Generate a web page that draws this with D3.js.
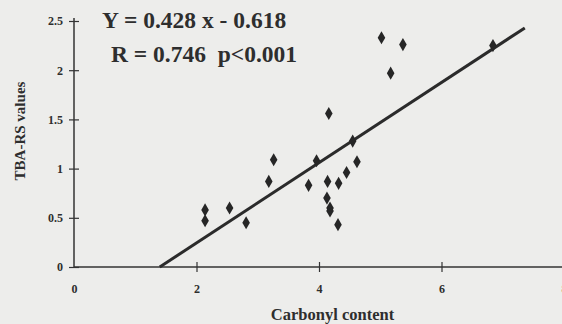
<!DOCTYPE html>
<html>
<head>
<meta charset="utf-8">
<script src="https://cdn.jsdelivr.net/npm/d3@7"></script>
<style>
  body { margin: 0; background: #ededeb; }
  svg { display: block; }
  text { font-family: "Liberation Serif", "Times New Roman", serif; font-weight: bold; fill: #2e2e2e; white-space: pre; }
</style>
</head>
<body>
<div id="chart"></div>
<script>
// Carbonyl content vs TBA-RS values
const carbonyl = [2.14, 2.14, 2.54, 2.81, 3.18, 3.26, 3.83, 3.96, 4.14, 4.32, 4.45, 4.62,
                  4.13, 4.18, 4.18, 4.31, 4.55, 4.16, 5.02, 5.37, 5.17, 6.84];
const tbars    = [0.58, 0.47, 0.60, 0.45, 0.87, 1.09, 0.83, 1.08, 0.87, 0.85, 0.96, 1.07,
                  0.70, 0.60, 0.57, 0.43, 1.28, 1.56, 2.33, 2.26, 1.97, 2.25];

const xTicks = [0, 2, 4, 6, 8];
const yTicks = [0, 0.5, 1, 1.5, 2, 2.5];

// regression line as drawn in the figure
const fitX = [1.40, 7.36];
const fitY = [0, 2.43];

const equationLines = ['Y = 0.428 x - 0.618', 'R = 0.746  p<0.001'];

const width = 562, height = 324;

const svg = d3.select('#chart')
  .append('svg')
  .attr('width', width)
  .attr('height', height);

const x = d3.scaleLinear().domain([0, 8]).range([74, 564]);
const y = d3.scaleLinear().domain([0, 2.5]).range([267, 21]);

// x axis line runs off the right edge
svg.append('line')
  .attr('x1', x(0)).attr('x2', width)
  .attr('y1', y(0)).attr('y2', y(0))
  .attr('stroke', '#333').attr('stroke-width', 1.5);

svg.append('line')
  .attr('x1', x(0)).attr('x2', x(0))
  .attr('y1', y(0)).attr('y2', y(2.5) - 3)
  .attr('stroke', '#333').attr('stroke-width', 1.5);

// x ticks (cross the axis)
const xAxis = svg.append('g')
  .attr('transform', `translate(0,${y(0)})`)
  .call(d3.axisBottom(x).tickValues(xTicks).tickSize(5).tickFormat(d3.format('d')));
xAxis.select('.domain').remove();
xAxis.selectAll('.tick line')
  .attr('y1', -5).attr('y2', 5)
  .attr('stroke', '#333').attr('stroke-width', 1.2)
  .filter(d => d === 0).remove();
xAxis.selectAll('.tick text')
  .attr('y', 17)
  .style('font-size', '12px')
  .style('font-family', '"Liberation Serif", serif');

// y ticks
const yAxis = svg.append('g')
  .attr('transform', `translate(${x(0)},0)`)
  .call(d3.axisLeft(y).tickValues(yTicks).tickSize(5).tickFormat(d => d));
yAxis.select('.domain').remove();
yAxis.selectAll('.tick line')
  .attr('x1', -5).attr('x2', 5)
  .attr('stroke', '#333').attr('stroke-width', 1.2);
yAxis.selectAll('.tick text')
  .attr('x', -11)
  .style('font-size', '12px')
  .style('font-family', '"Liberation Serif", serif');

// regression line
svg.append('line')
  .attr('x1', x(fitX[0])).attr('y1', y(fitY[0]))
  .attr('x2', x(fitX[1])).attr('y2', y(fitY[1]))
  .attr('stroke', '#2b2b2b')
  .attr('stroke-width', 3);

// diamond markers
const diamond = d3.symbol().type(d3.symbolDiamond).size(50);
svg.selectAll('.pt')
  .data(carbonyl.map((c, i) => ({ c: c, t: tbars[i] })))
  .enter()
  .append('path')
  .attr('class', 'pt')
  .attr('d', diamond)
  .attr('transform', d => `translate(${x(d.c)},${y(d.t)})`)
  .attr('fill', '#262626');

// equation text
svg.append('text')
  .attr('x', 102).attr('y', 28)
  .style('font-size', '23.5px')
  .text(equationLines[0]);
svg.append('text')
  .attr('x', 111).attr('y', 62)
  .style('font-size', '23.5px')
  .text(equationLines[1]);

// axis titles
svg.append('text')
  .attr('x', (268 + 397) / 2).attr('y', 320)
  .attr('text-anchor', 'middle')
  .style('font-size', '16.5px')
  .text('Carbonyl content');

svg.append('text')
  .attr('transform', 'translate(25,131) rotate(-90)')
  .attr('text-anchor', 'middle')
  .style('font-size', '15px')
  .text('TBA-RS values');
</script>
</body>
</html>
